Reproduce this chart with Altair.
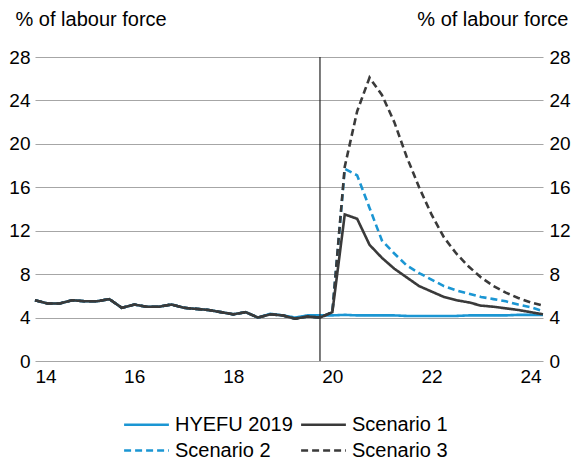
import altair as alt
import pandas as pd

# Quarterly positions (year - 2000)
hist_q = [14.0, 14.25, 14.5, 14.75, 15.0, 15.25, 15.5, 15.75,
          16.0, 16.25, 16.5, 16.75, 17.0, 17.25, 17.5, 17.75,
          18.0, 18.25, 18.5, 18.75, 19.0, 19.25, 19.5, 19.75]
hist_vals = [5.6, 5.3, 5.3, 5.6, 5.5, 5.5, 5.7, 4.9,
             5.2, 5.0, 5.0, 5.2, 4.9, 4.8, 4.7, 4.5,
             4.3, 4.5, 4.0, 4.3, 4.2, 3.9, 4.1, 4.0]
hyefu_hist_vals = [5.6, 5.3, 5.3, 5.6, 5.5, 5.5, 5.7, 4.9,
                   5.2, 5.0, 5.0, 5.2, 4.9, 4.8, 4.7, 4.5,
                   4.3, 4.5, 4.0, 4.35, 4.2, 4.0, 4.2, 4.2]

fc_q = [20.0, 20.25, 20.5, 20.75, 21.0, 21.25, 21.5, 21.75, 22.0,
        22.25, 22.5, 22.75, 23.0, 23.25, 23.5, 23.75, 24.0, 24.25]
hyefu_fc = [4.2, 4.25, 4.2, 4.2, 4.2, 4.2, 4.15, 4.15, 4.15,
            4.15, 4.15, 4.2, 4.2, 4.2, 4.2, 4.25, 4.25, 4.25]
s1_fc = [4.5, 13.5, 13.1, 10.7, 9.5, 8.5, 7.7, 6.9, 6.4,
         5.9, 5.6, 5.4, 5.1, 5.0, 4.85, 4.7, 4.5, 4.3]
s2_fc = [4.5, 17.7, 17.1, 14.1, 11.1, 9.9, 8.8, 8.1, 7.5,
         6.9, 6.5, 6.2, 5.9, 5.7, 5.5, 5.2, 4.95, 4.6]
s3_fc = [4.5, 17.9, 23.0, 26.1, 24.5, 22.0, 18.8, 16.0, 13.5,
         11.4, 9.9, 8.7, 7.7, 6.9, 6.3, 5.8, 5.4, 5.1]

series = ["HYEFU 2019", "Scenario 1", "Scenario 2", "Scenario 3"]
colors = ["#1b96d3", "#3a3a3a", "#1b96d3", "#3a3a3a"]
dashes = [[1, 0], [1, 0], [7, 4], [7, 4]]

y_ticks = [0, 4, 8, 12, 16, 20, 24, 28]
x_ticks = [14, 16, 18, 20, 22, 24]
marker_q = [19.75]

rows = []
for q, v in zip(hist_q, hyefu_hist_vals):
    rows.append({"q": q, "v": v, "s": "HYEFU 2019"})
for q, v in zip(fc_q, hyefu_fc):
    rows.append({"q": q, "v": v, "s": "HYEFU 2019"})
for name, fc in [("Scenario 1", s1_fc), ("Scenario 2", s2_fc), ("Scenario 3", s3_fc)]:
    for q, v in zip(hist_q, hist_vals):
        rows.append({"q": q, "v": v, "s": name})
    for q, v in zip(fc_q, fc):
        rows.append({"q": q, "v": v, "s": name})
df = pd.DataFrame(rows)

FONT = "Liberation Sans"
FS = 20
TFS = 19
TITLE = "% of labour force"

legend = alt.Legend(
    title=None, orient="none", legendX=96, legendY=352, columns=2, direction="horizontal",
    symbolType="M-1.6,0H1.6", symbolSize=784, symbolStrokeWidth=2.5,
    labelFont=FONT, labelFontSize=FS, labelColor="#000", labelOffset=13,
    columnPadding=3, rowPadding=0, padding=0,
)

x = alt.X("q:Q", scale=alt.Scale(domain=[14, 24.25], nice=False, zero=False),
          axis=alt.Axis(values=x_ticks, title=None, grid=False, ticks=False, domain=False,
                        labelFont=FONT, labelFontSize=TFS, labelColor="#000", labelPadding=6))
color = alt.Color("s:N", scale=alt.Scale(domain=series, range=colors), legend=legend)
dash = alt.StrokeDash("s:N", scale=alt.Scale(domain=series, range=dashes), legend=legend)

yscale = alt.Scale(domain=[0, 28], nice=False, zero=True)

left_axis = alt.Axis(values=y_ticks, grid=True, gridColor="#a6a6a6", gridWidth=1.2,
                     ticks=False, domain=False, labelFont=FONT, labelFontSize=TFS,
                     labelColor="#000", labelPadding=5,
                     title=TITLE, titleAngle=0, titleAlign="left", titleBaseline="alphabetic",
                     titleX=-20, titleY=-32, titleFont=FONT, titleFontSize=FS,
                     titleFontWeight="normal", titleColor="#000")
right_axis = alt.Axis(values=y_ticks, grid=False, orient="right",
                      ticks=False, domain=False, labelFont=FONT, labelFontSize=TFS,
                      labelColor="#000", labelPadding=6,
                      title=TITLE, titleAngle=0, titleAlign="right", titleBaseline="alphabetic",
                      titleX=25, titleY=-32, titleFont=FONT, titleFontSize=FS,
                      titleFontWeight="normal", titleColor="#000")

rule = alt.Chart(pd.DataFrame({"q": marker_q})).mark_rule(
    color="#222222", strokeWidth=1.2).encode(x=alt.X("q:Q"))

base = alt.Chart(df).mark_line(strokeWidth=2.6)

layer_a = base.transform_filter(
    alt.FieldOneOfPredicate(field="s", oneOf=["HYEFU 2019", "Scenario 2", "Scenario 3"])
).encode(x=x, y=alt.Y("v:Q", scale=yscale, axis=left_axis), color=color, strokeDash=dash,
         order=alt.Order("q:Q"))

layer_b = base.transform_filter(
    alt.FieldEqualPredicate(field="s", equal="Scenario 1")
).encode(x=x, y=alt.Y("v:Q", scale=yscale, axis=right_axis), color=color, strokeDash=dash,
         order=alt.Order("q:Q"))

chart = alt.layer(layer_a, rule, layer_b).resolve_scale(y="independent").properties(
    width=508, height=304,
    autosize=alt.AutoSizeParams(type="none"),
    padding={"left": 27, "top": 49, "right": 29, "bottom": 104},
).configure_view(stroke=None)

chart.save("out.html", embed_options={"renderer": "svg", "actions": False})
